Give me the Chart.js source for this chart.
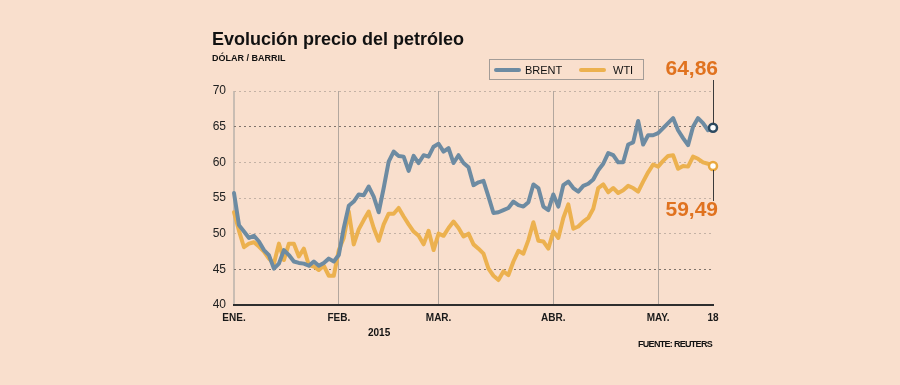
<!DOCTYPE html>
<html><head><meta charset="utf-8">
<script src="https://cdn.jsdelivr.net/npm/chart.js@4.4.1/dist/chart.umd.min.js"></script>
<style>
html,body{margin:0;padding:0;background:#f9dfcd;}
#wrap{position:relative;width:900px;height:385px;overflow:hidden;font-family:"Liberation Sans",Arial,sans-serif;color:#111;background:#f9dfcd;}
canvas{position:absolute;left:0;top:0;}
.t{position:absolute;white-space:nowrap;line-height:1;}
#title{left:212px;top:30px;font-size:18px;font-weight:bold;}
#sub{left:212px;top:53.5px;font-size:9px;font-weight:bold;}
#year{left:368px;top:328px;font-size:10px;font-weight:bold;}
#src{right:188px;top:340px;font-size:9px;font-weight:bold;letter-spacing:-0.7px;}
#legend{position:absolute;left:489px;top:59px;width:155px;height:21px;border:1px solid #a39c97;box-sizing:border-box;}
.sw{position:absolute;top:8px;width:27px;height:4px;border-radius:2px;}
.lt{position:absolute;top:5px;font-size:11px;line-height:1;}
</style>
</head><body>
<div id="wrap">
<canvas id="c" width="900" height="385"></canvas>
<div class="t" id="title">Evolución precio del petróleo</div>
<div class="t" id="sub">DÓLAR / BARRIL</div>
<div class="t" id="year">2015</div>
<div class="t" id="src">FUENTE: REUTERS</div>
<div id="legend"></div>
</div>
<script>
// Trading days Jan 2 – May 18, 2015 (sessions)
const diasEne = [2,5,6,7,8,9,12,13,14,15,16,19,20,21,22,23,26,27,28,29,30];
const diasFeb = [2,3,4,5,6,9,10,11,12,13,16,17,18,19,20,23,24,25,26,27];
const diasMar = [2,3,4,5,6,9,10,11,12,13,16,17,18,19,20,23,24,25,26,27,30,31];
const diasAbr = [1,2,3,6,7,8,9,10,13,14,15,16,17,20,21,22,23,24,27,28,29,30];
const diasMay = [1,4,5,6,7,8,11,12,13,14,15,18];

const brent = [55.7, 51.2, 50.3, 49.4, 49.7, 48.9, 47.7, 47.0, 45.1, 45.8,
  47.7, 47.0, 46.1, 45.9, 45.8, 45.5, 46.1, 45.5, 45.9, 46.5,
  46.1, 47.0, 50.8, 53.9, 54.5, 55.5, 55.4, 56.6, 55.2, 53.0,
  56.4, 60.1, 61.5, 60.9, 60.8, 58.8, 60.9, 59.9, 61.0, 60.8,
  62.2, 62.6, 61.5, 62.0, 59.9, 61.0, 59.9, 59.3, 56.8, 57.2,
  57.4, 55.2, 52.9, 53.0, 53.3, 53.6, 54.5, 54.0, 53.8, 54.4,
  56.9, 56.4, 53.8, 53.3, 55.5, 53.8, 56.8, 57.3, 56.4, 55.9,
  56.7, 57.0, 57.6, 58.9, 59.8, 61.3, 61.0, 60.0, 60.0, 62.5,
  62.8, 65.8, 62.5, 63.8, 63.8, 64.1, 64.8, 65.5, 66.2, 64.5,
  63.4, 62.4, 65.0, 66.2, 65.5, 64.5, 64.86];

const wti = [53.0, 50.4, 48.1, 48.6, 48.8, 48.2, 47.5, 46.5, 45.8, 48.6,
  46.3, 48.6, 48.6, 46.8, 47.9, 45.6, 45.4, 44.9, 45.5, 44.1,
  44.1, 47.7, 49.4, 53.1, 48.5, 50.6, 51.9, 53.1, 50.8, 49.0,
  51.3, 52.8, 52.8, 53.6, 52.4, 51.3, 50.3, 49.7, 48.5, 50.4,
  47.7, 50.0, 49.7, 50.8, 51.7, 50.8, 49.6, 50.0, 48.5, 47.9,
  47.2, 45.1, 44.1, 43.5, 44.7, 44.2, 46.1, 47.6, 47.2, 49.1,
  51.6, 49.0, 48.9, 47.9, 50.3, 49.4, 52.2, 54.1, 50.7, 51.0,
  51.7, 52.2, 53.5, 56.4, 56.9, 55.8, 56.4, 55.7, 56.1, 56.7,
  56.4, 55.9, 57.3, 58.6, 59.7, 59.4, 60.2, 60.9, 61.0, 59.1,
  59.5, 59.4, 60.8, 60.5, 60.0, 59.8, 59.49];

const tickLabels = ['ENE.', 'FEB.', 'MAR.', 'ABR.', 'MAY.', '18'];
const tickIndex = [0, 21, 41, 64, 85, 96];
const yTicks = [40, 45, 50, 55, 60, 65, 70];

const seriesNames = ['BRENT', 'WTI'];
const colors = ['#6d8ba2', '#ecb14f'];
const endRing = ['#2c4960', '#e9a93f'];

const labels = [];
[['ene', diasEne], ['feb', diasFeb], ['mar', diasMar], ['abr', diasAbr], ['may', diasMay]]
  .forEach(([m, ds]) => ds.forEach(d => labels.push(d + '-' + m)));
while (labels.length < brent.length) labels.push('');

// HTML legend
const lg = document.getElementById('legend');
const swLeft = [4, 89], txtLeft = [35, 123];
seriesNames.forEach((n, i) => {
  const s = document.createElement('div'); s.className = 'sw';
  s.style.left = swLeft[i] + 'px'; s.style.background = colors[i]; lg.appendChild(s);
  const t = document.createElement('div'); t.className = 'lt';
  t.style.left = txtLeft[i] + 'px'; t.textContent = n; lg.appendChild(t);
});

const fmt = v => v.toFixed(2).replace('.', ',');

const endLabels = {
  id: 'endLabels',
  afterDatasetsDraw(chart) {
    const ctx = chart.ctx, area = chart.chartArea;
    const pb = chart.getDatasetMeta(0).data.at(-1);
    const pw = chart.getDatasetMeta(1).data.at(-1);
    ctx.save();
    ctx.strokeStyle = '#3b3b3b'; ctx.lineWidth = 1;
    ctx.beginPath();
    ctx.moveTo(Math.round(pb.x) + 0.5, area.top - 11);
    ctx.lineTo(Math.round(pb.x) + 0.5, pb.y - 4);
    ctx.moveTo(Math.round(pw.x) + 0.5, pw.y + 4);
    ctx.lineTo(Math.round(pw.x) + 0.5, pw.y + 35);
    ctx.stroke();
    ctx.font = 'bold 21px "Liberation Sans", Arial, sans-serif';
    ctx.fillStyle = '#e0721f';
    ctx.textAlign = 'right'; ctx.textBaseline = 'alphabetic';
    ctx.fillText(fmt(brent.at(-1)), pb.x + 5, area.top - 16);
    ctx.fillText(fmt(wti.at(-1)), pw.x + 5, pw.y + 50);
    ctx.restore();
  }
};

const n = brent.length;
new Chart(document.getElementById('c'), {
  type: 'line',
  data: {
    labels,
    datasets: [brent, wti].map((d, i) => ({
      label: seriesNames[i],
      data: d,
      borderColor: colors[i],
      borderWidth: 4,
      tension: 0,
      borderJoinStyle: 'round',
      borderCapStyle: 'round',
      pointRadius: c => c.dataIndex === n - 1 ? 4 : 0,
      pointBackgroundColor: '#ffffff',
      pointBorderColor: endRing[i],
      pointBorderWidth: 2.5,
      clip: 6
    }))
  },
  options: {
    responsive: false,
    animation: false,
    layout: { padding: { left: 200, right: 187, top: 91, bottom: 60 } },
    plugins: { legend: { display: false }, tooltip: { enabled: false } },
    scales: {
      x: {
        type: 'category',
        offset: false,
        afterBuildTicks: s => { s.ticks = tickIndex.map(v => ({ value: v })); },
        afterFit: s => { s.height = 20; },
        ticks: {
          autoSkip: false, maxRotation: 0, padding: 7,
          color: '#1a1a1a',
          font: { family: '"Liberation Sans", Arial, sans-serif', size: 10, weight: 'bold' },
          callback: v => tickLabels[tickIndex.indexOf(v)]
        },
        grid: {
          drawTicks: false,
          color: c => {
            const v = c.tick ? c.tick.value : -1;
            if (v === 0) return '#c9bdb3';
            if (v === tickIndex[tickIndex.length - 1]) return 'rgba(0,0,0,0)';
            return '#b3a79e';
          },
          lineWidth: c => (c.tick && c.tick.value === 0) ? 2 : 1
        },
        border: { display: true, color: '#2e2e2e', width: 2 }
      },
      y: {
        min: 40, max: 70,
        afterBuildTicks: s => { s.ticks = yTicks.map(v => ({ value: v })); },
        afterFit: s => { s.width = 34; },
        ticks: {
          padding: 8, color: '#222',
          font: { family: '"Liberation Sans", Arial, sans-serif', size: 12 }
        },
        grid: {
          drawTicks: false,
          color: c => {
            const v = c.tick ? c.tick.value : 0;
            if (v === 40) return 'rgba(0,0,0,0)';
            if (v === 45 || v === 65) return '#7f736b';
            return '#c4b2a5';
          },
          lineWidth: 1
        },
        border: { display: false, dash: [2, 3] }
      }
    }
  },
  plugins: [endLabels]
});
</script>
</body></html>
